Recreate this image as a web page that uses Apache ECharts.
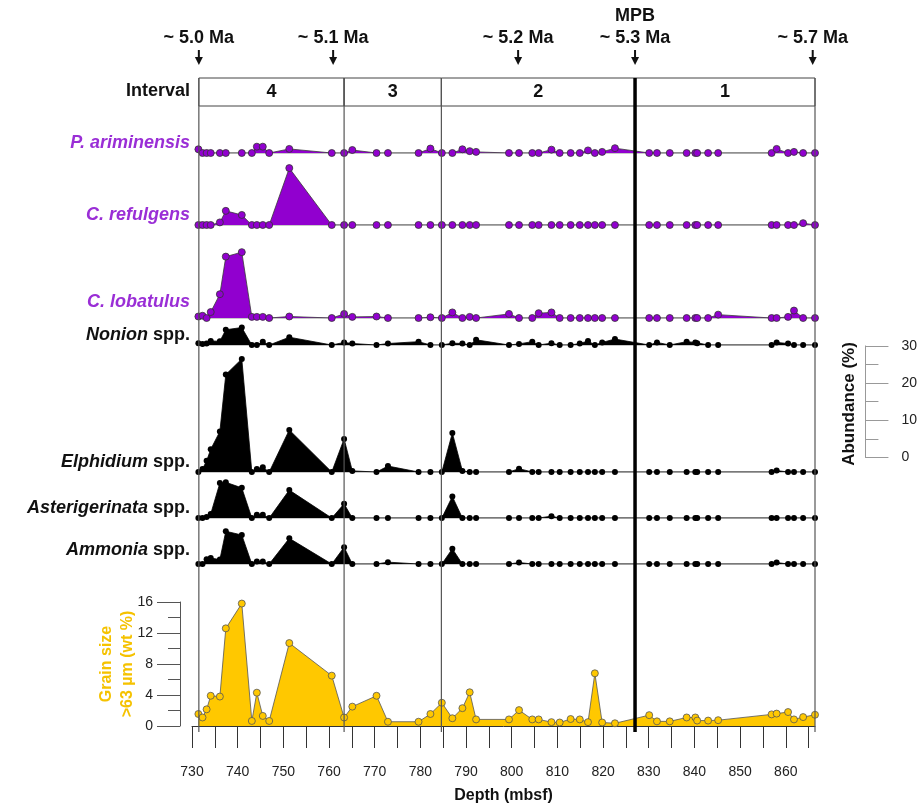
<!DOCTYPE html>
<html>
<head>
<meta charset="utf-8">
<title>Benthic foraminifera and grain size vs depth</title>
<script src="https://cdn.jsdelivr.net/npm/echarts@6/dist/echarts.min.js"></script>
<style>
  html, body { margin: 0; padding: 0; background: #fff; }
  #chart { width: 920px; height: 808px; }
</style>
</head>
<body>
<div id="chart"></div>
<script>
// sample depths (mbsf), shared by every record
const depths = [
  731.4, 732.3, 733.2, 734.1, 736.1, 737.4, 740.9, 743.1, 744.2, 745.5,
  746.9, 751.3, 760.6, 763.3, 765.1, 770.4, 772.9, 779.6, 782.2, 784.7,
  787.0, 789.2, 790.8, 792.2, 799.4, 801.6, 804.5, 805.9, 808.7, 810.5,
  812.9, 814.9, 816.7, 818.2, 819.8, 822.6, 830.1, 831.8, 834.6, 838.3,
  840.2, 840.6, 843.0, 845.2, 856.9, 858.0, 860.5, 861.8, 863.8, 866.4
];

// abundances (%)
const pAriminensis = [
  1.0, 0, 0, 0, 0, 0, 0, 0, 1.7, 1.7,
  0, 1.1, 0, 0, 0.8, 0, 0, 0, 1.2, 0,
  0, 1.0, 0.5, 0.3, 0, 0, 0, 0, 0.9, 0,
  0, 0, 0.7, 0, 0.3, 1.3, 0, 0, 0, 0,
  0, 0, 0, 0, 0, 1.1, 0, 0.3, 0, 0
];
const cRefulgens = [
  0, 0, 0, 0, 0.7, 3.8, 2.7, 0, 0, 0,
  0, 15.3, 0, 0, 0, 0, 0, 0, 0, 0,
  0, 0, 0, 0, 0, 0, 0, 0, 0, 0,
  0, 0, 0, 0, 0, 0, 0, 0, 0, 0,
  0, 0, 0, 0, 0, 0, 0, 0, 0.5, 0
];
const cLobatulus = [
  0.4, 0.6, 0, 1.6, 6.4, 16.5, 17.7, 0.3, 0.3, 0.3,
  0, 0.4, 0, 1.1, 0.3, 0.4, 0, 0, 0.2, 0,
  1.5, 0, 0.3, 0, 1.1, 0, 0, 1.3, 1.5, 0,
  0, 0, 0, 0, 0, 0, 0, 0, 0, 0,
  0, 0, 0, 0.9, 0, 0, 0.3, 2.0, 0, 0
];
const nonion = [
  0.5, 0.3, 0.4, 1.1, 1.0, 4.1, 4.7, 0, 0, 0.9,
  0, 2.1, 0, 0.7, 0.4, 0, 0.4, 0.9, 0, 0,
  0.5, 0.4, 0, 1.4, 0, 0.3, 0.9, 0, 0.5, 0,
  0, 0.4, 1.1, 0, 0.7, 1.6, 0, 0.7, 0, 0.9,
  0.7, 0.5, 0, 0, 0, 0.7, 0.4, 0, 0, 0
];
const elphidium = [
  0, 0.8, 3.0, 6.1, 10.9, 26.2, 30.4, 0, 0.8, 1.3,
  0, 11.3, 0, 8.9, 0.3, 0, 1.6, 0, 0, 0,
  10.5, 0.3, 0, 0, 0, 0.9, 0, 0, 0, 0,
  0, 0, 0, 0, 0, 0, 0, 0, 0, 0,
  0, 0, 0, 0, 0, 0.4, 0, 0, 0, 0
];
const asterigerinata = [
  0, 0, 0.3, 1.1, 9.4, 9.6, 8.1, 0, 0.9, 0.9,
  0, 7.5, 0, 3.8, 0, 0, 0, 0, 0, 0,
  5.8, 0, 0, 0, 0, 0, 0, 0, 0.5, 0,
  0, 0, 0, 0, 0, 0, 0, 0, 0, 0,
  0, 0, 0, 0, 0, 0, 0, 0, 0, 0
];
const ammonia = [
  0, 0, 1.3, 1.6, 1.2, 8.8, 7.8, 0, 0.7, 0.7,
  0, 6.9, 0, 4.5, 0, 0, 0.5, 0, 0, 0,
  4.1, 0, 0, 0, 0, 0.4, 0, 0, 0, 0,
  0, 0, 0, 0, 0, 0, 0, 0, 0, 0,
  0, 0, 0, 0, 0, 0.4, 0, 0, 0, 0
];

// grain size >63 µm (wt %)
const grainSize = [
  1.55, 1.1, 2.15, 3.9, 3.8, 12.6, 15.8, 0.65, 4.3, 1.3,
  0.65, 10.7, 6.5, 1.1, 2.5, 3.9, 0.55, 0.55, 1.55, 3.0,
  1.0, 2.3, 4.35, 0.85, 0.85, 2.05, 0.85, 0.85, 0.5, 0.45,
  0.9, 0.85, 0.5, 6.8, 0.45, 0.35, 1.4, 0.6, 0.6, 1.1,
  1.1, 0.7, 0.7, 0.75, 1.5, 1.6, 1.8, 0.85, 1.15, 1.45
];

// intervals and age tie points
const intervalEdges = [731.5, 763.3, 784.6, 827.0, 866.4];
const intervalNames = ['4', '3', '2', '1'];
const mpbDepth = 827.0;
const ageDepths = [731.5, 760.9, 801.4, 827.0, 865.9];
const ageLabels = ['~ 5.0 Ma', '~ 5.1 Ma', '~ 5.2 Ma', '~ 5.3 Ma', '~ 5.7 Ma'];

// layout
const FONT = '"Liberation Sans", Arial, sans-serif';
const W = 920;
const PLOT_LEFT = 192, PLOT_RIGHT = 815;
const X_MIN = 730, X_MAX = 866.4;
const PX_PER_M = (PLOT_RIGHT - PLOT_LEFT) / (X_MAX - X_MIN);
const PX_PER_PCT = 3.72;
const PURPLE = '#9100CF', PURPLE_TXT = '#9A2ED6';
const YELLOW = '#FFC800', YELLOW_TXT = '#F5C200';
const LABEL_FONT = 18;

const panels = [
  { name: 'P. ariminensis', values: pAriminensis, color: PURPLE, base: 153, room: 40, labelY: 143 },
  { name: 'C. refulgens', values: cRefulgens, color: PURPLE, base: 225, room: 66, labelY: 215 },
  { name: 'C. lobatulus', values: cLobatulus, color: PURPLE, base: 318, room: 74, labelY: 302 },
  { name: 'Nonion', suffix: ' spp.', values: nonion, color: '#000', base: 345, room: 22, labelY: 335 },
  { name: 'Elphidium', suffix: ' spp.', values: elphidium, color: '#000', base: 472, room: 122, labelY: 462 },
  { name: 'Asterigerinata', suffix: ' spp.', values: asterigerinata, color: '#000', base: 518, room: 42, labelY: 508 },
  { name: 'Ammonia', suffix: ' spp.', values: ammonia, color: '#000', base: 564, room: 40, labelY: 550 }
];

const grids = [], xAxes = [], yAxes = [], series = [];
function addGrid(grid, xAxis, yAxis) {
  grids.push(grid);
  const i = grids.length - 1;
  xAxes.push(Object.assign({ type: 'value', gridIndex: i }, xAxis));
  yAxes.push(Object.assign({ type: 'value', gridIndex: i }, yAxis));
  return i;
}
const fullX = { min: X_MIN, max: X_MAX, show: false };
const unitY = { min: 0, max: 1, show: false };
const right = W - PLOT_RIGHT;

// age arrows
const gAge = addGrid({ left: PLOT_LEFT, right: right, top: 0, height: 78 }, fullX, unitY);
series.push({
  type: 'custom', xAxisIndex: gAge, yAxisIndex: gAge, silent: true,
  data: ageDepths.map(d => [d, 0]),
  renderItem(params, api) {
    const p = api.coord([api.value(0), 0]);
    const x = p[0], yb = p[1];
    const kids = [
      { type: 'line', shape: { x1: x, y1: yb - 28, x2: x, y2: yb - 19 }, style: { stroke: '#111', lineWidth: 2 } },
      { type: 'polygon', shape: { points: [[x - 4, yb - 21], [x + 4, yb - 21], [x, yb - 13]] }, style: { fill: '#111' } },
      { type: 'text', style: { text: ageLabels[params.dataIndex], x: x, y: yb - 40, align: 'center', verticalAlign: 'middle', font: 'bold 18px ' + FONT, fill: '#111' } }
    ];
    if (api.value(0) === mpbDepth) {
      kids.push({ type: 'text', style: { text: 'MPB', x: x, y: yb - 62, align: 'center', verticalAlign: 'middle', font: 'bold 18px ' + FONT, fill: '#111' } });
    }
    return { type: 'group', children: kids };
  }
});

// interval boxes
const gBox = addGrid({ left: PLOT_LEFT, right: right, top: 78, height: 28 }, fullX, unitY);
series.push({
  type: 'custom', xAxisIndex: gBox, yAxisIndex: gBox, silent: true,
  data: intervalNames.map((n, i) => [intervalEdges[i], intervalEdges[i + 1]]),
  renderItem(params, api) {
    const a = api.coord([api.value(0), 1]);
    const b = api.coord([api.value(1), 0]);
    return { type: 'group', children: [
      { type: 'rect', shape: { x: a[0], y: a[1], width: b[0] - a[0], height: b[1] - a[1] }, style: { fill: 'none', stroke: '#444', lineWidth: 1 } },
      { type: 'text', style: { text: intervalNames[params.dataIndex], x: (a[0] + b[0]) / 2, y: (a[1] + b[1]) / 2, align: 'center', verticalAlign: 'middle', font: 'bold 18px ' + FONT, fill: '#111' } }
    ] };
  }
});

// species panels
const firstX = PLOT_LEFT + (depths[0] - X_MIN) * PX_PER_M;
panels.forEach(p => {
  const g = addGrid(
    { left: firstX, right: right, top: p.base - p.room, height: p.room },
    { min: depths[0], max: X_MAX, axisLine: { show: true, lineStyle: { color: '#b8b8b8', width: 1.5 } }, axisTick: { show: false }, axisLabel: { show: false }, splitLine: { show: false } },
    { min: 0, max: p.room / PX_PER_PCT, show: false }
  );
  const purple = p.color === PURPLE;
  series.push({
    type: 'line', xAxisIndex: g, yAxisIndex: g, z: 3, silent: true,
    data: depths.map((d, i) => [d, p.values[i]]),
    symbol: 'circle', symbolSize: purple ? 7 : 6,
    itemStyle: { color: p.color, borderColor: purple ? '#333' : '#000', borderWidth: purple ? 0.8 : 0 },
    lineStyle: { color: purple ? '#3a3a3a' : '#000', width: 0.8 },
    areaStyle: { color: p.color, opacity: 1 }
  });
});

// grain size panel with the depth axis
const gGrain = addGrid(
  { left: PLOT_LEFT, right: right, top: 602, height: 124 },
  {
    min: X_MIN, max: X_MAX, interval: 5, offset: 6,
    axisLine: { lineStyle: { color: '#333', width: 1 } },
    axisTick: { length: 22, lineStyle: { color: '#333' } },
    axisLabel: { margin: 33, fontSize: 14, color: '#222', fontFamily: FONT, showMaxLabel: false, formatter: v => (v % 10 === 0 ? String(v) : '') },
    splitLine: { show: false },
    name: 'Depth (mbsf)', nameLocation: 'middle', nameGap: 56,
    nameTextStyle: { fontSize: 16, fontWeight: 'bold', color: '#111', fontFamily: FONT }
  },
  {
    min: 0, max: 16, interval: 4, offset: 12,
    axisLine: { show: true, onZero: false, lineStyle: { color: '#555', width: 1 } },
    axisTick: { show: true, length: 23, lineStyle: { color: '#555' } },
    minorTick: { show: true, splitNumber: 2, length: 12, lineStyle: { color: '#555' } },
    axisLabel: { margin: 27, fontSize: 14, color: '#222', fontFamily: FONT },
    splitLine: { show: false }
  }
);
series.push({
  type: 'line', xAxisIndex: gGrain, yAxisIndex: gGrain, z: 3, silent: true,
  data: depths.map((d, i) => [d, grainSize[i]]),
  symbol: 'circle', symbolSize: 7,
  itemStyle: { color: YELLOW, borderColor: '#555', borderWidth: 0.8 },
  lineStyle: { color: '#555', width: 0.8 },
  areaStyle: { color: YELLOW, opacity: 1 }
});

// interval boundaries running through all panels
const gFrame = addGrid({ left: PLOT_LEFT, right: right, top: 78, bottom: 808 - 732 }, fullX, unitY);
series.push({
  type: 'custom', xAxisIndex: gFrame, yAxisIndex: gFrame, z: 10, silent: true,
  data: intervalEdges.map(d => [d, 0]),
  renderItem(params, api) {
    const x = api.coord([api.value(0), 0])[0];
    const cs = params.coordSys;
    const mpb = api.value(0) === mpbDepth;
    return { type: 'line', shape: { x1: x, y1: cs.y, x2: x, y2: cs.y + cs.height },
      style: { stroke: mpb ? '#000' : '#555', lineWidth: mpb ? 3.5 : 1.2 } };
  }
});

// abundance scale bar
addGrid(
  { left: 856, width: 10, top: 457.5 - 30 * PX_PER_PCT, height: 30 * PX_PER_PCT },
  { min: 0, max: 1, show: false },
  {
    position: 'right', min: 0, max: 30, interval: 10,
    axisLine: { show: true, onZero: false, lineStyle: { color: '#999', width: 1 } },
    axisTick: { show: true, length: 23, lineStyle: { color: '#999' } },
    minorTick: { show: true, splitNumber: 2, length: 13, lineStyle: { color: '#999' } },
    axisLabel: { margin: 36, fontSize: 14, color: '#222', fontFamily: FONT },
    splitLine: { show: false }
  }
);

// left-hand labels
const graphics = [
  { type: 'text', x: 190, y: 91, style: { text: 'Interval', font: 'bold 18px ' + FONT, fill: '#111', align: 'right', verticalAlign: 'middle' } },
  { type: 'text', x: 117, y: 664, rotation: Math.PI / 2, style: { text: 'Grain size\n>63 µm (wt %)', font: 'bold 16px ' + FONT, fill: YELLOW_TXT, align: 'center', verticalAlign: 'middle', lineHeight: 21 } },
  { type: 'text', x: 849, y: 404, rotation: Math.PI / 2, style: { text: 'Abundance (%)', font: 'bold 17px ' + FONT, fill: '#111', align: 'center', verticalAlign: 'middle' } }
];
panels.forEach(p => {
  const fill = p.color === PURPLE ? PURPLE_TXT : '#111';
  graphics.push({
    type: 'text', x: 190, y: p.labelY,
    style: {
      text: p.suffix ? '{i|' + p.name + '}' + p.suffix : p.name,
      rich: { i: { font: 'italic bold ' + LABEL_FONT + 'px ' + FONT, fill: fill } },
      font: (p.suffix ? '' : 'italic ') + 'bold ' + LABEL_FONT + 'px ' + FONT,
      fill: fill, align: 'right', verticalAlign: 'middle'
    }
  });
});

const chart = echarts.init(document.getElementById('chart'));
chart.setOption({
  animation: false,
  backgroundColor: '#fff',
  grid: grids,
  xAxis: xAxes,
  yAxis: yAxes,
  series: series,
  graphic: graphics
});
</script>
</body>
</html>
